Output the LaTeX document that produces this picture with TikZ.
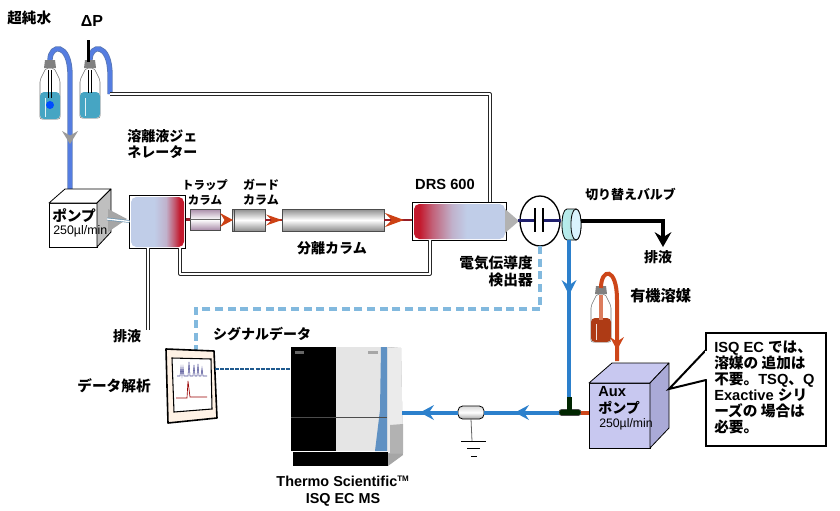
\documentclass[tikz,border=0pt]{standalone}
\usepackage{fontspec}
\setmainfont{Liberation Sans}
\newfontfamily\jp{Noto Sans CJK JP}
\usetikzlibrary{arrows.meta,shapes.geometric,calc}
\definecolor{tubeblue}{RGB}{85,125,225}
\definecolor{tubeedge}{RGB}{90,120,180}
\definecolor{flowblue}{RGB}{44,128,204}
\definecolor{dashblue}{RGB}{130,185,222}
\definecolor{redtube}{RGB}{150,30,40}
\definecolor{headred}{RGB}{205,65,20}
\definecolor{orgred}{RGB}{205,70,25}
\definecolor{navy}{RGB}{32,32,110}
\definecolor{lav}{RGB}{200,200,240}
\definecolor{lavside}{RGB}{170,170,215}
\definecolor{genblue}{RGB}{192,205,232}
\definecolor{genred}{RGB}{195,25,45}
\definecolor{teal1}{RGB}{70,165,195}
\definecolor{msblue}{RGB}{95,145,195}
\pgfdeclarehorizontalshading{genshade}{100bp}{color(0bp)=(genblue); color(47bp)=(genblue); color(58bp)=(genblue!85!genred); color(66bp)=(genred!65!genblue); color(71bp)=(genred); color(100bp)=(genred)}
\pgfdeclarehorizontalshading{drsshade}{100bp}{color(0bp)=(genred); color(28bp)=(genred); color(35bp)=(genred!60!genblue); color(46bp)=(genblue!85!genred); color(54bp)=(genblue); color(100bp)=(genblue)}
\tikzset{
  px/.style={x=0.75pt,y=-0.75pt},
  label/.style={font=\jp\bfseries\fontsize{10.5pt}{12.5pt}\selectfont,align=center,inner sep=0pt,text=black},
  labelen/.style={font=\bfseries\fontsize{10pt}{12pt}\selectfont,align=center,inner sep=0pt,text=black},
  capil/.style={draw=black!85,line width=0.7pt,double=white,double distance=0.9pt,line join=round},
  blue tube/.style={draw=tubeedge,line width=0.6pt,double=tubeblue,double distance=2.8pt},
  flow/.style={draw=flowblue,line width=3pt},
  orgtube/.style={draw=orgred,line width=3pt},
  redline/.style={draw=redtube,line width=2pt},
  column/.style={draw=black!70,line width=0.6pt,inner sep=0pt,outer sep=0pt},
  signal/.style={draw=dashblue,line width=3pt,dash pattern=on 6pt off 3.5pt},
  noteline/.style={draw=black,line width=1.5pt},
  face/.style={draw=black,line width=0.6pt,line join=round},
}
% arrowheads: tip x, tip y, length, half width, colour
\newcommand\headdown[5]{\fill[#5] (#1,#2) -- (#1-#4,#2-#3) -- (#1,#2-0.65*#3) -- (#1+#4,#2-#3) -- cycle;}
\newcommand\headleft[5]{\fill[#5] (#1,#2) -- (#1+#3,#2-#4) -- (#1+0.65*#3,#2) -- (#1+#3,#2+#4) -- cycle;}
\newcommand\headright[5]{\fill[#5] (#1,#2) -- (#1-#3,#2-#4) -- (#1-0.65*#3,#2) -- (#1-#3,#2+#4) -- cycle;}
\newcommand\bottle[6]{% x, captop, bottom, liquidtop, liquid colour, insides
  \begin{scope}[shift={(#1,0)}]
    \draw[black!55,fill=white,line width=0.4pt,rounded corners=1.5pt] (-4,#2+8) -- (-10,#2+20) -- (-10,#3) -- (10,#3) -- (10,#2+20) -- (4,#2+8) -- cycle;
    \fill[#5,rounded corners=3pt] (-10,#4) -- (10,#4) -- (10,#3) -- (-10,#3) -- cycle;
    \fill[white,opacity=.85] (-5.5,#4+6) rectangle (-4.5,#3-2);
    #6
    \fill[black!50] (-5,#2) -- (5,#2) -- (6,#2+8) -- (-6,#2+8) -- cycle;
  \end{scope}}
\begin{document}
\begin{tikzpicture}[px]
\useasboundingbox (0,0) rectangle (840,511);
\fill[white] (0,0) rectangle (840,511);

% --- named points
\coordinate (b1top) at (50,60);
\coordinate (b1side) at (70,75);
\coordinate (pumpin) at (70,195);
\coordinate (b2top) at (90,60);
\coordinate (b2side) at (110,75);
\coordinate (b2bend) at (110,94);
\coordinate (topright) at (490,94);
\coordinate (drain) at (148,330);
\coordinate (lowleft) at (180,274);
\coordinate (lowright) at (430,274);
\coordinate (wasteelbow) at (663,221);
\coordinate (waste) at (663,238);
\coordinate (sigelbow) at (540,309);
\coordinate (sigleft) at (196,309);
\coordinate (orgtop) at (601,288);
\coordinate (orgside) at (617,300);

% --- bottles
\draw[blue tube] (b1top) .. controls (50,44) and (70,42) .. (b1side) -- (pumpin);
\bottle{50}{60}{119}{92}{teal1}{\draw[black,line width=1pt] (-1.5,70) -- (-1.5,98) (1.5,70) -- (1.5,98);\fill[blue!70!cyan] (0,105) circle (4);}
\draw[blue tube] (b2top) .. controls (90,44) and (110,42) .. (b2side) -- (b2bend);
\bottle{90}{60}{118}{92}{teal1}{\draw[black,line width=1pt] (-1.5,70) -- (-1.5,93) (1.5,70) -- (1.5,93);}
\draw[black,line width=2pt] (88.5,40) -- (88.5,62);
\headdown{70}{144}{13}{8}{black!40}
\node[label,anchor=west,font=\jp\bfseries\fontsize{11pt}{13pt}\selectfont] (water) at (7,18) {超純水};
\node[font=\bfseries\fontsize{12pt}{14pt}\selectfont,inner sep=0pt] (dp) at (92,21) {ΔP};

% --- capillaries (behind boxes)
\node[minimum width=56*0.75pt,minimum height=53*0.75pt,inner sep=0pt,outer sep=0pt,draw=black,line width=.6pt,fill=white] (gen) at (157.5,221.5) {};
\node[minimum width=94*0.75pt,minimum height=38*0.75pt,inner sep=0pt,outer sep=0pt,draw=black,line width=.6pt,fill=white] (drs) at (459,221) {};
\draw[capil] (b2bend) -- (topright) -- (topright |- drs.north);
\draw[capil] (gen.south -| lowleft) -- (lowleft) -- (lowright) -- (drs.south -| lowright);
\draw[capil] (gen.south -| drain) -- (drain);
\shade[shading=genshade,rounded corners=4pt] (131,197) rectangle (184,247);
\shade[shading=drsshade,rounded corners=4pt] (414,204) rectangle (505,239);

% --- pump
\node[minimum width=48*0.75pt,minimum height=44*0.75pt,inner sep=0pt,outer sep=0pt,draw=black,fill=white,line width=.6pt,align=left] (pump) at (73,225) {};
\draw[face,fill=white] (pump.north west) -- (65,189) -- (111,189) -- (pump.north east) -- cycle;
\draw[face,fill=black!25] (pump.north east) -- (111,189) -- (111,232) -- (pump.south east) -- cycle;
\fill[black!35] (108,209) -- (127,219) -- (108,232) -- cycle;
\draw[draw=dashblue!80!black,line width=.5pt,double=white,double distance=1pt] (107,219) -- (gen.west);
\node[label,anchor=west,font=\jp\bfseries\fontsize{11pt}{12pt}\selectfont] (pumpt) at (52,216) {ポンプ};
\node[font=\fontsize{9.3pt}{10pt}\selectfont,inner sep=0pt,anchor=west] (pumpr) at (53,231) {250µl/min};

% --- columns
\node[column,minimum width=30*0.75pt,minimum height=21*0.75pt,top color=violet!50!black!45,bottom color=violet!50!black!45,middle color=white] (trap) at (205,219.5) {};
\node[column,minimum width=33*0.75pt,minimum height=22*0.75pt,top color=black!45,bottom color=black!45,middle color=white] (guard) at (248.5,220) {};
\draw[black!70,line width=.5pt] (234,209) -- (234,231);
\node[column,minimum width=102*0.75pt,minimum height=22*0.75pt,top color=black!45,bottom color=black!45,middle color=white] (sep) at (333,220) {};
\draw[redline] (gen.east |- trap) -- (trap.west);
\draw[redline] (guard.east) -- (sep.west);
\draw[redline] (sep.east) -- (drs.west |- sep);
\draw[black!60,line width=.4pt] (trap.west) -- (trap.east);
\headright{233}{220}{13}{7}{headred}
\headright{282}{220}{16}{5.5}{headred}
\headright{404}{220}{19}{7}{headred}
\node[label,anchor=south,font=\jp\bfseries\fontsize{8.6pt}{11.5pt}\selectfont] (trapt) at (205,206) {トラップ\\カラム};
\node[label,anchor=south,font=\jp\bfseries\fontsize{9pt}{11.5pt}\selectfont] (guardt) at (261,206) {ガード\\カラム};
\node[label] (sept) at (332,248) {分離カラム};
\node[label,align=left,anchor=north west] (gent) at (127,129) {溶離液ジェ\\ネレーター};
\node[labelen,anchor=center,font=\bfseries\fontsize{11pt}{12pt}\selectfont] (drst) at (445,184) {DRS 600};

% --- detector and valve
\fill[black!30] (505,209) -- (519,221) -- (505,233) -- cycle;
\node[ellipse,draw=black,line width=1pt,minimum width=40*0.75pt,minimum height=50*0.75pt,inner sep=0pt,outer sep=0pt] (det) at (540,221) {};
\node[inner sep=0pt,outer sep=0pt,minimum width=20*0.75pt,minimum height=31*0.75pt] (valve) at (571,224.5) {};
\shade[left color=black!20!cyan!30,right color=black!55!cyan!25,draw=black,line width=.6pt] (567,209) -- (576,209) .. controls (582.7,209) and (582.7,240) .. (576,240) -- (567,240) .. controls (560.3,240) and (560.3,209) .. (567,209) -- cycle;
\draw[black,line width=.6pt,fill=white!85!cyan] (576,209) .. controls (582.7,209) and (582.7,240) .. (576,240) .. controls (569.3,240) and (569.3,209) .. (576,209) -- cycle;
\draw[navy,line width=2pt] (518,220.5) -- (535,220.5) (544,220.5) -- (valve.west |- 0,220.5);
\draw[black,line width=1.2pt] (535,208) -- (535,232) (543,208) -- (543,232);
\draw[black,line width=3pt,line join=miter] (581,221) -- (wasteelbow) -- (waste);
\headdown{663}{247}{15}{8.5}{black}
\node[label,anchor=west,font=\jp\bfseries\fontsize{9.7pt}{12pt}\selectfont] (valvet) at (585,194) {切り替えバルブ};
\node[label] (wastet) at (658,257) {排液};
\node[label,align=right,anchor=north east,font=\jp\bfseries\fontsize{11pt}{12.8pt}\selectfont] (dett) at (533,256) {電気伝導度\\検出器};
\node[label] (draint) at (127,336) {排液};

% --- signal
\draw[signal] (det.south) -- (sigelbow) -- (sigleft) -- (196,350);
\node[label] (sigt) at (262,334) {シグナルデータ};
\node[label,anchor=east,font=\jp\bfseries\fontsize{11pt}{13pt}\selectfont] (anat) at (151,386) {データ解析};

% --- tablet
\draw[black,line width=1.2pt,fill=orange!10!white,line join=round] (166,349) -- (214,351) -- (217,418) -- (168,423) -- cycle;
\draw[black,line width=.8pt,fill=white] (172,358) -- (211,359) -- (212,409) -- (174,412) -- cycle;
\draw[blue!40!black!70,line width=.4pt] (177,376) -- (180,376) -- (181,367) -- (182,376) -- (183,367) -- (184,376) -- (188,376) -- (189,362) -- (190,376) -- (193,376) -- (194,365) -- (195,376) -- (197,376) -- (198,364) -- (199,376) -- (201,376) -- (202,368) -- (203,376) -- (207,376);
\draw[red!60!black,line width=.5pt] (176,398) -- (187,398) -- (188,381) -- (190,397) -- (207,397);
\draw[draw=flowblue!70!black,line width=1.2pt,dash pattern=on 3pt off .8pt] (215,369) -- (292,369);

% --- mass spectrometer
\fill[black!35] (388,347) -- (401,348) -- (403,455) -- (388,466) -- cycle;
\fill[black!8] (381,347) -- (401,348) -- (403,453) -- (388,453) -- cycle;
\fill[black!30] (390,425) -- (403,424) -- (403,453) -- (390,453) -- cycle;
\fill[black] (293,452) rectangle (388,466);
\fill[white!90!black] (336,347) rectangle (388,451);
\fill[msblue] (381,347) -- (387,347) -- (387,451) -- (375,451) -- (380,410) -- cycle;
\fill[black] (291,347) rectangle (336,451);
\draw[black!70,line width=.5pt] (291,417) -- (387,417);
\fill[black!60] (295,351) rectangle (304,354);
\fill[black!35] (368,351) rectangle (378,354);
\node[labelen,font=\bfseries\fontsize{10.8pt}{12.5pt}\selectfont] (mst) at (343,491) {Thermo Scientific\textsuperscript{\fontsize{6pt}{6pt}\selectfont TM}\\ISQ EC MS};

% --- flow to MS
\coordinate (msin) at (402,412.5);
\node[inner sep=0pt,outer sep=0pt,minimum width=22*0.75pt,minimum height=6*0.75pt,draw=black!70,fill=green!15!black,rounded corners=2pt,line width=.5pt] (tee) at (570,412.5) {};
\draw[flow] (569,240) -- (569,397);
\headdown{569}{295}{15}{7.5}{flowblue}
\fill[green!15!black] (567,397) rectangle (571.5,410);
\node[inner sep=0pt,outer sep=0pt,minimum width=26*0.75pt,minimum height=13*0.75pt,draw=black,rounded corners=3.5pt,top color=black!15,bottom color=black!35,middle color=white,line width=.6pt] (union) at (471,412.5) {};
\draw[flow] (tee.west) -- (union.east);
\draw[flow] (union.west) -- (msin);
\headleft{515}{412.5}{14}{7.5}{flowblue}
\headleft{420}{412.5}{14}{7.5}{flowblue}
\draw[black!60,line width=.6pt] (union.south) -- (472,441);
\draw[black,line width=.6pt] (461,441) -- (486,441) (467,448) -- (480,448) (471,456) -- (477,456);

% --- aux pump
\bottle{601}{286}{342}{318}{orgred!85!black}{\fill[orgred!70!white] (-2,295) rectangle (2,320);}
\draw[orgtube] (orgtop) .. controls (601,268) and (617,266) .. (orgside) -- (617,361);
\headdown{617}{350}{13}{7}{orgred}
\node[label,anchor=west,font=\jp\bfseries\fontsize{11.4pt}{13pt}\selectfont] (orgt) at (630,296) {有機溶媒};
\node[minimum width=61*0.75pt,minimum height=65*0.75pt,inner sep=0pt,outer sep=0pt,draw=black,fill=lav,line width=.6pt] (aux) at (619.5,415.5) {};
\draw[face,fill=lav] (aux.north west) -- (612,363) -- (669,363) -- (aux.north east) -- cycle;
\draw[face,fill=lavside] (aux.north east) -- (669,363) -- (669,428) -- (aux.south east) -- cycle;
\draw[orgred,line width=3pt] (tee.east) -- (aux.west |- tee);
\node[label,align=left,anchor=north west,font=\jp\bfseries\fontsize{10.5pt}{13pt}\selectfont] (auxt) at (598,386) {{\bfseries\rmfamily\fontsize{11pt}{13pt}\selectfont Aux}\\ポンプ};
\node[font=\fontsize{9.2pt}{10pt}\selectfont,inner sep=0pt,anchor=west] (auxr) at (599,424) {250µl/min};

% --- note
\node[draw=black,line width=1.5pt,fill=white,minimum width=120*0.75pt,minimum height=113*0.75pt,inner sep=0pt,outer sep=0pt] (note) at (766,389.5) {};
\coordinate (notetip) at (669,389);
\draw[noteline,fill=white,line join=miter] (note.west |- 0,350) -- (notetip) -- (note.west |- 0,380);
\fill[white] (705,351) rectangle (708,379);
\node[anchor=west,font=\bfseries\fontsize{11pt}{12.1pt}\selectfont,align=left,inner sep=0pt] (notet) at (714,387.5) {ISQ EC {\jp では、}\\{\jp 溶媒の 追加は}\\{\jp 不要。}TSQ{\jp 、}Q\\Exactive {\jp シリ}\\{\jp ーズの 場合は}\\{\jp 必要。}};
\end{tikzpicture}
\end{document}
